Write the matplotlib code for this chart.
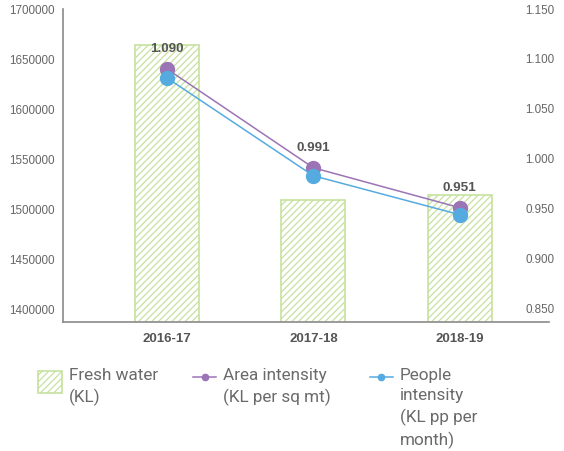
import matplotlib.pyplot as plt
from matplotlib.patches import Rectangle
from matplotlib.lines import Line2D

years = ['2016-17', '2017-18', '2018-19']
fresh_water = [1664000, 1509000, 1514000]          # KL
area_intensity = [1.090, 0.991, 0.951]             # KL per sq mt
people_intensity = [1.081, 0.983, 0.944]           # KL pp per month

left_ticks = [1400000, 1450000, 1500000, 1550000, 1600000, 1650000, 1700000]
right_ticks = [0.850, 0.900, 0.950, 1.000, 1.050, 1.100, 1.150]

green = '#c6e19f'
purple = '#9b74b6'
blue = '#55abe0'
grey_txt = '#666666'
dark_txt = '#555555'

plt.rcParams['hatch.linewidth'] = 0.9

fig = plt.figure(figsize=(5.64, 4.51), dpi=100)
ax = fig.add_axes([63 / 564, 1 - 322 / 451, (549 - 63) / 564, (322 - 9) / 451])
ax2 = ax.twinx()

x = list(range(len(years)))
ax.bar(x, fresh_water, width=0.437, color='white', edgecolor=green,
       hatch='/////', linewidth=1.2, zorder=2)

ax.set_xlim(-0.71, 2.61)
ax.set_ylim(1387000, 1700000)
ax.set_yticks(left_ticks)
ax.set_yticklabels([str(v) for v in left_ticks], fontsize=8.4,
                   color=grey_txt, family='Liberation Sans')
ax.set_xticks(x)
ax.set_xticklabels(years, fontsize=9.5, fontweight='bold', color=dark_txt,
                   family='Liberation Sans')
ax.tick_params(axis='y', length=0, pad=6)
ax.tick_params(axis='x', length=0, pad=8)
for side in ['top', 'right']:
    ax.spines[side].set_visible(False)
for side in ['left', 'bottom']:
    ax.spines[side].set_color('#8a8a8a')
    ax.spines[side].set_linewidth(1.2)

# intensity lines on the secondary axis
ax2.plot(x, area_intensity, color=purple, lw=1.1, marker='o', ms=10, zorder=3)
ax2.plot(x, people_intensity, color=blue, lw=1.1, marker='o', ms=10, zorder=4)
for xi, v in zip(x, area_intensity):
    ax2.annotate(f'{v:.3f}', (xi, v), xytext=(0, 14), textcoords='offset points',
                 ha='center', va='center', fontsize=9.7, fontweight='bold',
                 color=dark_txt, family='Liberation Sans')

ax2.set_ylim(0.8365, 1.1500)
ax2.set_yticks(right_ticks)
ax2.set_yticklabels([f'{v:.3f}' for v in right_ticks], fontsize=8.4,
                    color=grey_txt, family='Liberation Sans')
ax2.tick_params(axis='y', length=0, pad=-17)
for lbl in ax2.get_yticklabels():
    lbl.set_horizontalalignment('left')
for s in ax2.spines.values():
    s.set_visible(False)

# legend, built by hand so handles sit against the first text line
def to_fig(px, py):
    return px / 564, 1 - py / 451

leg_font = dict(fontsize=12.3, color='#6a6a6a', family='Roboto',
                va='top', ha='left', linespacing=1.42)

x0, y0 = to_fig(38, 393)
w, h = 24 / 564, 22 / 451
fig.add_artist(Rectangle((x0, y0), w, h, transform=fig.transFigure,
                         facecolor='white', edgecolor=green, hatch='/////',
                         linewidth=1.2))
fig.text(*to_fig(69, 368), 'Fresh water\n(KL)', **leg_font)

for lx, col, label in [(193, purple, 'Area intensity\n(KL per sq mt)'),
                       (370, blue, 'People\nintensity\n(KL pp per\nmonth)')]:
    xa, ya = to_fig(lx, 377)
    xb, _ = to_fig(lx + 23, 377)
    fig.add_artist(Line2D([xa, xb], [ya, ya], transform=fig.transFigure,
                          color=col, lw=1.1))
    fig.add_artist(Line2D([(xa + xb) / 2], [ya], transform=fig.transFigure,
                          color=col, marker='o', ms=4.5))
    fig.text(*to_fig(lx + 30, 368), label, **leg_font)

fig.savefig('out.png', dpi=100)
